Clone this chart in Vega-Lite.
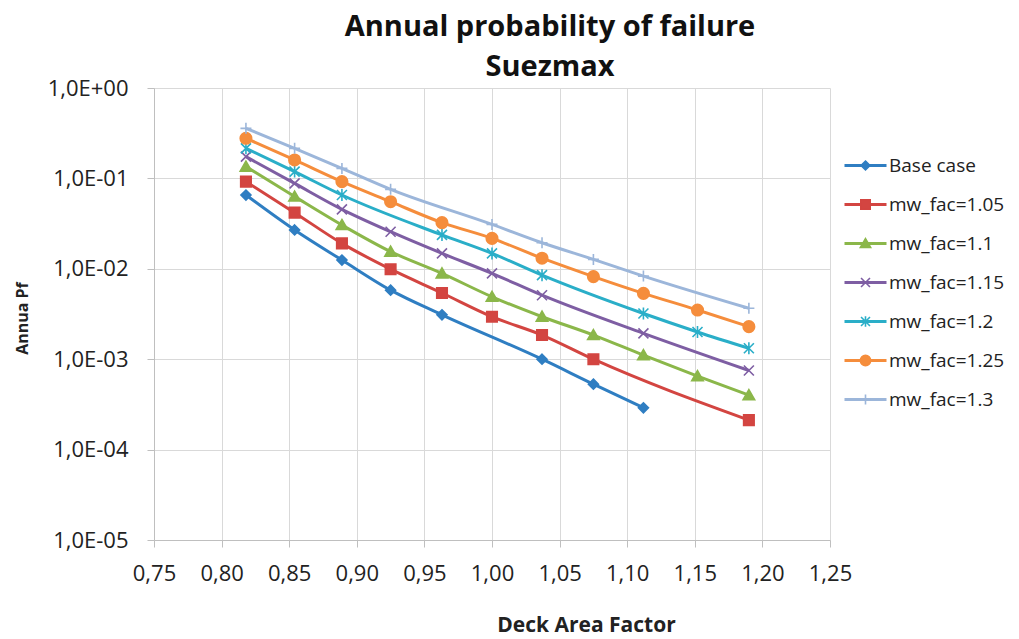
{
  "$schema": "https://vega.github.io/schema/vega-lite/v6.json",
  "width": 676,
  "height": 452,
  "autosize": {"type": "none"},
  "padding": {"left": 154, "top": 88, "right": 189, "bottom": 99},
  "background": "white",
  "title": {
    "text": ["Annual probability of failure", "Suezmax"],
    "font": "Open Sans",
    "fontSize": 29,
    "fontWeight": "bold",
    "color": "#111111",
    "lineHeight": 40,
    "anchor": "middle",
    "dx": 58,
    "offset": -5
  },
  "data": {
    "values": [
      {"series": "Base case", "x": 0.818, "pf": 0.0655},
      {"series": "Base case", "x": 0.854, "pf": 0.0269},
      {"series": "Base case", "x": 0.889, "pf": 0.0125},
      {"series": "Base case", "x": 0.925, "pf": 0.0058},
      {"series": "Base case", "x": 0.963, "pf": 0.0031},
      {"series": "Base case", "x": 1.037, "pf": 0.00100},
      {"series": "Base case", "x": 1.075, "pf": 0.00053},
      {"series": "Base case", "x": 1.112, "pf": 0.00029},
      {"series": "mw_fac=1.05", "x": 0.818, "pf": 0.092},
      {"series": "mw_fac=1.05", "x": 0.854, "pf": 0.0418},
      {"series": "mw_fac=1.05", "x": 0.889, "pf": 0.0191},
      {"series": "mw_fac=1.05", "x": 0.925, "pf": 0.0099},
      {"series": "mw_fac=1.05", "x": 0.963, "pf": 0.0054},
      {"series": "mw_fac=1.05", "x": 1.0, "pf": 0.00295},
      {"series": "mw_fac=1.05", "x": 1.037, "pf": 0.00185},
      {"series": "mw_fac=1.05", "x": 1.075, "pf": 0.00100},
      {"series": "mw_fac=1.05", "x": 1.19, "pf": 0.000212},
      {"series": "mw_fac=1.1", "x": 0.818, "pf": 0.135},
      {"series": "mw_fac=1.1", "x": 0.854, "pf": 0.063},
      {"series": "mw_fac=1.1", "x": 0.889, "pf": 0.0305},
      {"series": "mw_fac=1.1", "x": 0.925, "pf": 0.0155},
      {"series": "mw_fac=1.1", "x": 0.963, "pf": 0.0089},
      {"series": "mw_fac=1.1", "x": 1.0, "pf": 0.0049},
      {"series": "mw_fac=1.1", "x": 1.037, "pf": 0.00295},
      {"series": "mw_fac=1.1", "x": 1.075, "pf": 0.00185},
      {"series": "mw_fac=1.1", "x": 1.112, "pf": 0.00111},
      {"series": "mw_fac=1.1", "x": 1.152, "pf": 0.00065},
      {"series": "mw_fac=1.1", "x": 1.19, "pf": 0.00040},
      {"series": "mw_fac=1.15", "x": 0.818, "pf": 0.174},
      {"series": "mw_fac=1.15", "x": 0.854, "pf": 0.088},
      {"series": "mw_fac=1.15", "x": 0.889, "pf": 0.0455},
      {"series": "mw_fac=1.15", "x": 0.925, "pf": 0.0257},
      {"series": "mw_fac=1.15", "x": 0.963, "pf": 0.0148},
      {"series": "mw_fac=1.15", "x": 1.0, "pf": 0.0089},
      {"series": "mw_fac=1.15", "x": 1.037, "pf": 0.0051},
      {"series": "mw_fac=1.15", "x": 1.112, "pf": 0.00193},
      {"series": "mw_fac=1.15", "x": 1.19, "pf": 0.00075},
      {"series": "mw_fac=1.2", "x": 0.818, "pf": 0.215},
      {"series": "mw_fac=1.2", "x": 0.854, "pf": 0.119},
      {"series": "mw_fac=1.2", "x": 0.889, "pf": 0.0655},
      {"series": "mw_fac=1.2", "x": 0.963, "pf": 0.0237},
      {"series": "mw_fac=1.2", "x": 1.0, "pf": 0.0148},
      {"series": "mw_fac=1.2", "x": 1.037, "pf": 0.0085},
      {"series": "mw_fac=1.2", "x": 1.112, "pf": 0.0032},
      {"series": "mw_fac=1.2", "x": 1.152, "pf": 0.0020},
      {"series": "mw_fac=1.2", "x": 1.19, "pf": 0.00132},
      {"series": "mw_fac=1.25", "x": 0.818, "pf": 0.278},
      {"series": "mw_fac=1.25", "x": 0.854, "pf": 0.160},
      {"series": "mw_fac=1.25", "x": 0.889, "pf": 0.092},
      {"series": "mw_fac=1.25", "x": 0.925, "pf": 0.0552},
      {"series": "mw_fac=1.25", "x": 0.963, "pf": 0.0324},
      {"series": "mw_fac=1.25", "x": 1.0, "pf": 0.0217},
      {"series": "mw_fac=1.25", "x": 1.037, "pf": 0.0131},
      {"series": "mw_fac=1.25", "x": 1.075, "pf": 0.0082},
      {"series": "mw_fac=1.25", "x": 1.112, "pf": 0.00535},
      {"series": "mw_fac=1.25", "x": 1.152, "pf": 0.0035},
      {"series": "mw_fac=1.25", "x": 1.19, "pf": 0.00229},
      {"series": "mw_fac=1.3", "x": 0.818, "pf": 0.358},
      {"series": "mw_fac=1.3", "x": 0.854, "pf": 0.215},
      {"series": "mw_fac=1.3", "x": 0.889, "pf": 0.129},
      {"series": "mw_fac=1.3", "x": 0.925, "pf": 0.0757},
      {"series": "mw_fac=1.3", "x": 1.0, "pf": 0.031},
      {"series": "mw_fac=1.3", "x": 1.037, "pf": 0.0194},
      {"series": "mw_fac=1.3", "x": 1.075, "pf": 0.0127},
      {"series": "mw_fac=1.3", "x": 1.112, "pf": 0.0083},
      {"series": "mw_fac=1.3", "x": 1.19, "pf": 0.00366}
    ]
  },
  "encoding": {
    "x": {
      "field": "x",
      "type": "quantitative",
      "scale": {"domain": [0.75, 1.25], "nice": false, "zero": false},
      "axis": {
        "title": "Deck Area Factor",
        "values": [0.75, 0.8, 0.85, 0.9, 0.95, 1.0, 1.05, 1.1, 1.15, 1.2, 1.25],
        "labelExpr": "replace(format(datum.value, '.2f'), '.', ',')",
        "labelFont": "Open Sans",
        "labelFontSize": 22,
        "labelColor": "#222222",
        "labelPadding": 16,
        "tickSize": 7,
        "tickColor": "#BFBFBF",
        "domainColor": "#BFBFBF",
        "gridColor": "#D9D9D9",
        "titleFont": "Open Sans",
        "titleFontSize": 21,
        "titleFontWeight": "bold",
        "titleColor": "#222222",
        "titleX": 432,
        "titleY": 74,
        "labelFlush": false
      }
    },
    "y": {
      "field": "pf",
      "type": "quantitative",
      "scale": {"type": "log", "domain": [0.00001, 1], "nice": false},
      "axis": {
        "title": "Annua Pf",
        "values": [0.00001, 0.0001, 0.001, 0.01, 0.1, 1],
        "labelExpr": "'1,0E' + (datum.value >= 1 ? '+00' : '-0' + round(-log(datum.value) / LN10))",
        "labelFont": "Open Sans",
        "labelFontSize": 22,
        "labelColor": "#222222",
        "labelPadding": 19,
        "tickSize": 7,
        "tickColor": "#BFBFBF",
        "domainColor": "#BFBFBF",
        "gridColor": "#D9D9D9",
        "titleFont": "Open Sans",
        "titleFontSize": 16,
        "titleFontWeight": "bold",
        "titleColor": "#222222",
        "titleX": -132,
        "titleY": 230,
        "titleBaseline": "middle",
        "labelFlush": false
      }
    }
  },
  "layer": [
    {
      "mark": {"type": "line", "interpolate": "monotone", "strokeWidth": 3},
      "encoding": {
        "order": {"field": "x", "type": "quantitative"},
        "color": {
          "field": "series",
          "type": "nominal",
          "scale": {
            "domain": ["Base case", "mw_fac=1.05", "mw_fac=1.1", "mw_fac=1.15", "mw_fac=1.2", "mw_fac=1.25", "mw_fac=1.3"],
            "range": ["#2F7EC2", "#D34541", "#8BB74A", "#7E5EA3", "#2AAEC8", "#F58D3C", "#9CB6DA"]
          },
          "legend": {
            "title": null,
            "orient": "none",
            "legendX": 702,
            "legendY": 68,
            "padding": 0,
            "symbolType": "M-4.2,0L4.2,0",
            "symbolSize": 100,
            "symbolStrokeWidth": 3,
            "labelFont": "Open Sans",
            "labelFontSize": 19,
            "labelColor": "#222222",
            "labelOffset": 14,
            "rowPadding": 19
          }
        }
      }
    },
    {
      "mark": {"type": "point", "filled": true, "opacity": 1, "size": 100, "strokeWidth": 1.6},
      "encoding": {
        "fill": {
          "field": "series",
          "type": "nominal",
          "scale": {"range": ["#2F7EC2", "#D34541", "#8BB74A", "#7E5EA3", "#2AAEC8", "#F58D3C", "#9CB6DA"]},
          "legend": {
            "title": null,
            "orient": "none",
            "legendX": 702,
            "legendY": 68,
            "padding": 0,
            "symbolSize": 80,
            "symbolStrokeWidth": 1.6,
            "labelFont": "Open Sans",
            "labelFontSize": 19,
            "labelOpacity": 0,
            "labelOffset": 14,
            "rowPadding": 19
          }
        },
        "stroke": {
          "field": "series",
          "type": "nominal",
          "scale": {"range": ["#2F7EC2", "#D34541", "#8BB74A", "#7E5EA3", "#2AAEC8", "#F58D3C", "#9CB6DA"]}
        },
        "shape": {
          "field": "series",
          "type": "nominal",
          "scale": {
            "range": [
              "M0,-1L1,0L0,1L-1,0Z",
              "M-1.05,-1.05L1.05,-1.05L1.05,1.05L-1.05,1.05Z",
              "M0,-1.1L1.15,0.9L-1.15,0.9Z",
              "M-1,-1L1,1M-1,1L1,-1",
              "M-1,-1L1,1M-1,1L1,-1M0,-1.2L0,1.2",
              "M-1.15,0A1.15,1.15,0,1,1,1.15,0A1.15,1.15,0,1,1,-1.15,0Z",
              "M-1.1,0L1.1,0M0,-1.1L0,1.1"
            ]
          }
        }
      }
    }
  ],
  "config": {
    "view": {"stroke": null},
    "axis": {"grid": true, "gridWidth": 1, "domainWidth": 1, "tickWidth": 1}
  }
}
